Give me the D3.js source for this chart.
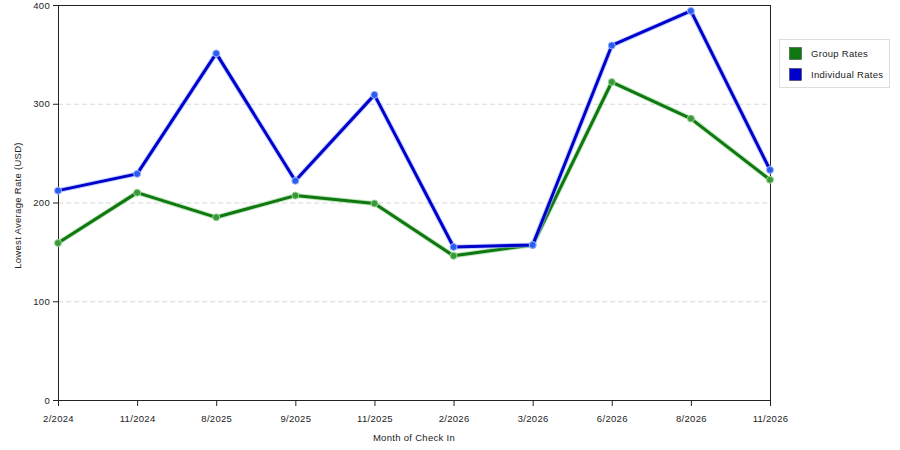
<!DOCTYPE html>
<html>
<head>
<meta charset="utf-8">
<script src="https://cdn.jsdelivr.net/npm/d3@7"></script>
<style>
  body { margin: 0; background: #fff; }
  svg { display: block; font-family: "Liberation Sans", Arial, sans-serif; letter-spacing: 0.3px; }
  .axis text { font-size: 9.5px; fill: #222; }
  .axis path, .axis line { stroke: #222; }
</style>
</head>
<body>
<svg width="900" height="450"></svg>
<script>
var months = ["2/2024", "11/2024", "8/2025", "9/2025", "11/2025", "2/2026", "3/2026", "6/2026", "8/2026", "11/2026"];
var groupRates = [159, 210, 185, 207, 199, 146, 157, 322, 285, 223];
var individualRates = [212, 229, 351, 222, 309, 155, 157, 359, 394, 233];
var yTicks = [0, 100, 200, 300, 400];
var seriesNames = ["Group Rates", "Individual Rates"];

(function(){
    var svg = d3.select("svg"),
        margin = {top: 5, right: 130, bottom: 50, left: 58},
        width = 770 - margin.left,
        height = 400 - margin.top,
        g = svg.append("g").attr("transform", "translate(" + margin.left + "," + margin.top + ")");

    var series = [
        {name: seriesNames[0], values: groupRates, color: "#0f780f", halo: "#9ad69a", dot: "#3a9a3a"},
        {name: seriesNames[1], values: individualRates, color: "#0000cc", halo: "#9fb4ff", dot: "#2a5cf0"}
    ];

    var x = d3.scalePoint()
        .domain(months)
        .range([0, width]);

    var y = d3.scaleLinear()
        .domain([0, 400])
        .range([height, 0]);

    // grid lines
    g.selectAll(".grid")
        .data(yTicks.filter(function(d){ return d > 0 && d < 400; }))
        .enter().append("line")
        .attr("class", "grid")
        .attr("x1", 0).attr("x2", width)
        .attr("y1", function(d){ return y(d) + 0.5; })
        .attr("y2", function(d){ return y(d) + 0.5; })
        .attr("stroke", "#d8d8d8")
        .attr("stroke-dasharray", "5,3");

    // top and right border
    g.append("path")
        .attr("d", "M0,0.5H" + width + ".5V" + height)
        .attr("fill", "none")
        .attr("stroke", "#222")
        .attr("shape-rendering", "crispEdges");

    g.append("g")
        .attr("class", "axis axis--x")
        .attr("transform", "translate(0," + height + ")")
        .call(d3.axisBottom(x).tickSizeInner(6).tickSizeOuter(0).tickPadding(9));

    g.append("g")
        .attr("class", "axis axis--y")
        .call(d3.axisLeft(y).tickValues(yTicks).tickSizeInner(5).tickSizeOuter(0).tickPadding(3));

    var line = d3.line()
        .x(function(d, i){ return x(months[i]); })
        .y(function(d){ return y(d); });

    series.forEach(function(s){
        g.append("path")//光晕
            .datum(s.values)
            .attr("fill", "none")
            .attr("stroke", s.halo)
            .attr("stroke-opacity", 0.6)
            .attr("stroke-width", 5)
            .attr("stroke-linejoin", "round")
            .attr("d", line);

        g.append("path")
            .datum(s.values)
            .attr("fill", "none")
            .attr("stroke", s.color)
            .attr("stroke-width", 3)
            .attr("stroke-linejoin", "round")
            .attr("d", line);

        g.selectAll(".dot-" + s.name.charAt(0))
            .data(s.values)
            .enter().append("circle")
            .attr("cx", function(d, i){ return x(months[i]); })
            .attr("cy", function(d){ return y(d); })
            .attr("r", 3.5)
            .attr("fill", s.dot)
            .attr("stroke", s.halo)
            .attr("stroke-width", 1);
    });

    // axis titles
    svg.append("text")
        .attr("x", margin.left + width / 2)
        .attr("y", 441)
        .attr("text-anchor", "middle")
        .style("font-size", "9.5px")
        .attr("fill", "#222")
        .text("Month of Check In");

    svg.append("text")
        .attr("transform", "translate(21," + (margin.top + height / 2 + 3) + ") rotate(-90)")
        .attr("text-anchor", "middle")
        .style("font-size", "9.5px")
        .attr("fill", "#222")
        .text("Lowest Average Rate (USD)");

    // legend
    var legend = svg.append("g").attr("transform", "translate(779,39)");
    legend.append("rect")
        .attr("x", 0.5).attr("y", 0.5)
        .attr("width", 110).attr("height", 48)
        .attr("fill", "#fff")
        .attr("stroke", "#dddddd");

    series.forEach(function(s, i){
        legend.append("rect")
            .attr("x", 10.5).attr("y", 8.5 + i * 21)
            .attr("width", 12).attr("height", 12)
            .attr("fill", s.color)
            .attr("stroke", "#333")
            .attr("stroke-width", 0.5);
        legend.append("text")
            .attr("x", 32)
            .attr("y", 14.5 + i * 21)
            .attr("dy", ".35em")
            .style("font-size", "9.5px")
            .attr("fill", "#222")
            .text(s.name);
    });
}());
</script>
</body>
</html>
